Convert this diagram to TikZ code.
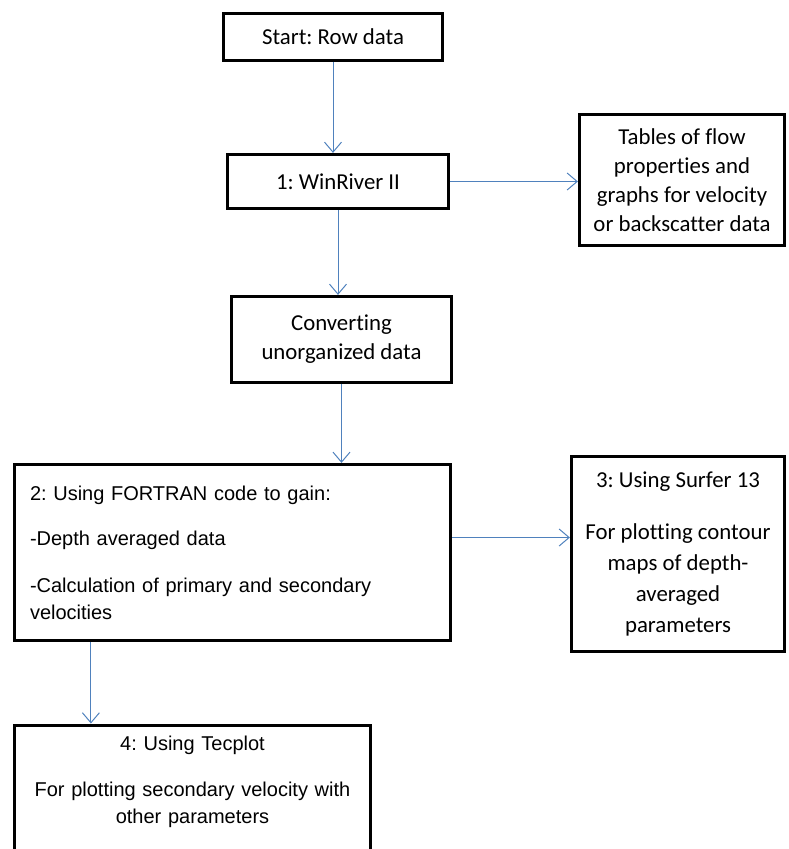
\documentclass[tikz,border=0pt]{standalone}
\usepackage{fontspec}
\setmainfont{Carlito}[Ligatures=NoCommon]
\newfontfamily\arialfont{Liberation Sans}
\frenchspacing
\usetikzlibrary{arrows.meta,positioning}
\definecolor{flowblue}{RGB}{79,129,189}
\tikzset{box/.style={draw, rectangle, line width=3.2pt, align=center, font=\fontsize{22.8}{29}\selectfont}, arialbox/.style={box, font=\arialfont\fontsize{20}{27}\selectfont}, flow/.style={draw=flowblue, line width=1pt, -{Straight Barb[length=10pt,width=17pt]}}, x=1pt, y=-1pt}

\begin{document}
\begin{tikzpicture}
    \useasboundingbox (0,0) rectangle (789,849);
    \node[box, minimum width=219pt, minimum height=47pt] (start) at (333,37) {Start: Row data};
    \node[box, minimum width=221pt, minimum height=54pt] (win) at (338,181.5) {1: WinRiver II};
    \node[box, minimum width=205pt, minimum height=131pt] (tables) at (682,180) {Tables of flow\\ properties and\\ graphs for velocity\\ or backscatter data};
    \node[box, minimum width=220pt, minimum height=86pt] (conv) at (341.5,339.5) {Converting\\ unorganized data};
    \node[arialbox, minimum width=436pt, minimum height=176pt, text width=405pt, align=left] (fortran) at (232.5,552.5) {2: Using FORTRAN code to gain:\\[18pt] -Depth averaged data\\[20pt] -Calculation of primary and secondary\\ velocities};
    \node[box, minimum width=213pt, minimum height=195pt, font=\fontsize{22.8}{31}\selectfont] (surfer) at (678,554) {3: Using Surfer 13\\[21pt] For plotting contour\\ maps of depth-\\ averaged\\ parameters};
    \node[arialbox, anchor=north, minimum width=356pt, text width=340pt, inner ysep=3pt, text height=22pt, text depth=150pt] (tecplot) at (192.5,723.5) {4: Using Tecplot\\[19pt] For plotting secondary velocity with\\ other parameters};
    % arrows
    \draw[flow] (start.south) -- (start.south |- win.north);
    \draw[flow] (win.east) -- (win.east -| tables.west);
    \draw[flow] (win.south) -- (win.south |- conv.north);
    \draw[flow] (conv.south) -- (conv.south |- fortran.north);
    \draw[flow] ([yshift=15pt]fortran.east) -- ([yshift=15pt]fortran.east -| surfer.west);
    \draw[flow] ([xshift=78pt]fortran.south west) -- ([xshift=78pt]fortran.south west |- tecplot.north);
\end{tikzpicture}
\end{document}
